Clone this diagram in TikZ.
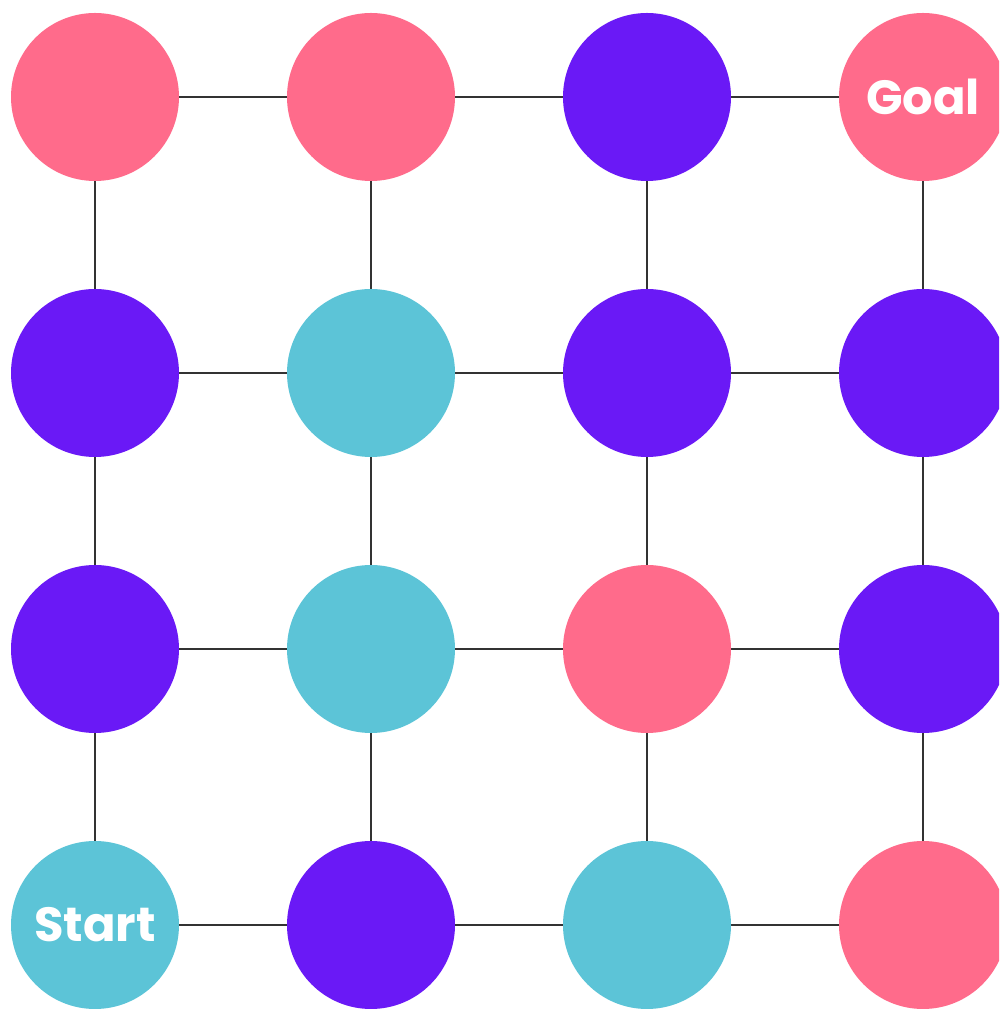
\documentclass[tikz,border=0pt]{standalone}
\usepackage{fontspec}
\setmainfont{Poppins}[BoldFont={* Bold}]
\usetikzlibrary{backgrounds}
\definecolor{cpink}{HTML}{FF6B8B}
\definecolor{cpurple}{HTML}{6A19F6}
\definecolor{ccyan}{HTML}{5CC4D7}
\definecolor{cline}{HTML}{333333}
\tikzset{
  dot/.style={circle, minimum size=168pt, inner sep=0pt, draw=none, text=white, font=\fontsize{48}{52}\selectfont\bfseries},
  pk/.style={dot, fill=cpink},
  pu/.style={dot, fill=cpurple},
  cy/.style={dot, fill=ccyan},
  link/.style={draw=cline, line width=2.2pt}
}
\begin{document}
\begin{tikzpicture}[x=1pt,y=1pt]
\useasboundingbox (0,0) rectangle (999,1009);
\clip (0,0) rectangle (999,1009);
% row 1 (top)
\node[pk] (a1) at (95,912) {};
\node[pk] (a2) at (371,912) {};
\node[pu] (a3) at (647,912) {};
\node[pk] (a4) at (923,912) {Goal};
% row 2
\node[pu] (b1) at (95,636) {};
\node[cy] (b2) at (371,636) {};
\node[pu] (b3) at (647,636) {};
\node[pu] (b4) at (923,636) {};
% row 3
\node[pu] (c1) at (95,360) {};
\node[cy] (c2) at (371,360) {};
\node[pk] (c3) at (647,360) {};
\node[pu] (c4) at (923,360) {};
% row 4
\node[cy] (d1) at (95,84) {Start};
\node[pu] (d2) at (371,84) {};
\node[cy] (d3) at (647,84) {};
\node[pk] (d4) at (923,84) {};
\begin{scope}[on background layer]
\foreach \r in {a,b,c,d}{
  \draw[link] (\r1.center) -- (\r2.center) -- (\r3.center) -- (\r4.center);
}
\foreach \c in {1,2,3,4}{
  \draw[link] (a\c.center) -- (b\c.center) -- (c\c.center) -- (d\c.center);
}
\end{scope}
\end{tikzpicture}
\end{document}
